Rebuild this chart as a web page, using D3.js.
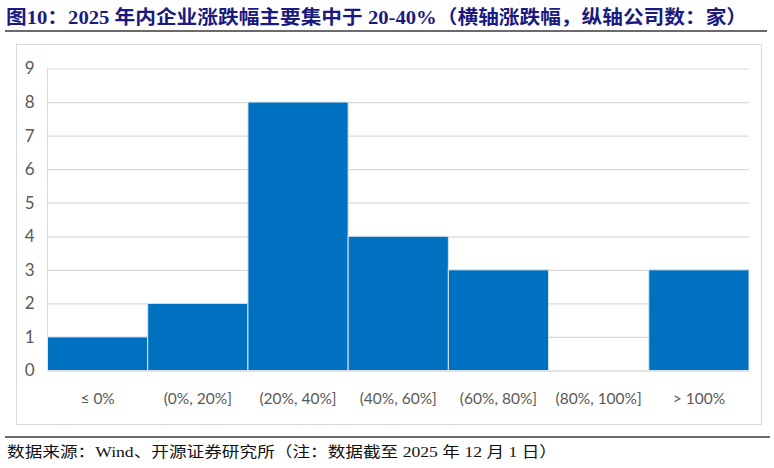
<!DOCTYPE html>
<html><head><meta charset="utf-8">
<script src="https://cdn.jsdelivr.net/npm/d3@7"></script>
<style>body{margin:0;background:#fff}svg{display:block}</style>
</head><body>
<svg id="c" width="774" height="468"></svg>
<script>
const titleText = "图10：2025 年内企业涨跌幅主要集中于 20-40%（横轴涨跌幅，纵轴公司数：家）";
const sourceText = "数据来源：Wind、开源证券研究所（注：数据截至 2025 年 12 月 1 日）";
const categories = ["≤ 0%", "(0%, 20%]", "(20%, 40%]", "(40%, 60%]", "(60%, 80%]", "(80%, 100%]", "> 100%"];
const counts = [1, 2, 8, 4, 3, 0, 3];
const yTicks = [0, 1, 2, 3, 4, 5, 6, 7, 8, 9];

const svg = d3.select("#c");
const W = 774, H = 468;

// title
svg.append("text").attr("x", 6).attr("y", 24)
  .attr("font-family", "'Liberation Serif','Noto Sans CJK SC',serif")
  .attr("font-weight", "bold").attr("font-size", 19).attr("fill", "#1a1a80")
  .attr("textLength", 741).attr("lengthAdjust", "spacingAndGlyphs")
  .text(titleText);
svg.append("line").attr("x1", 5).attr("x2", 767).attr("y1", 31).attr("y2", 31)
  .attr("stroke", "#6b6b6b").attr("stroke-width", 2);

// chart frame
svg.append("rect").attr("x", 16.5).attr("y", 44.5).attr("width", 745).attr("height", 380)
  .attr("fill", "#fff").attr("stroke", "#d9d9d9").attr("stroke-width", 1);

const x = d3.scaleBand().domain(categories).range([47.5, 749]).paddingInner(0).paddingOuter(0);
const y = d3.scaleLinear().domain([0, 9]).range([370.5, 68.5]);

// gridlines
const grid = svg.append("g").attr("transform", "translate(47.5,0)")
  .call(d3.axisLeft(y).tickValues(yTicks).tickSize(-(749 - 47.5)).tickFormat(""));
grid.select(".domain").remove();
grid.selectAll("line").attr("stroke", "#d9d9d9").attr("stroke-width", 1.2);

// left axis line
svg.append("line").attr("x1", 47.5).attr("x2", 47.5).attr("y1", y(9)).attr("y2", y(0))
  .attr("stroke", "#d9d9d9").attr("stroke-width", 1);

// bars
svg.append("g").selectAll("rect").data(counts).join("rect")
  .attr("x", (d, i) => x(categories[i]))
  .attr("width", x.bandwidth())
  .attr("y", d => y(d))
  .attr("height", d => y(0) - y(d))
  .attr("fill", "#0070c0")
  .attr("stroke", "#dce6f2").attr("stroke-width", 1);

// y axis labels
const ya = svg.append("g").attr("transform", "translate(47.5,0)")
  .call(d3.axisLeft(y).tickValues(yTicks).tickSize(0).tickPadding(13));
ya.select(".domain").remove();
ya.selectAll("text").attr("font-family", "Lato, 'Open Sans', sans-serif")
  .attr("font-size", 17).attr("fill", "#595959");

// x axis labels
const xa = svg.append("g").attr("transform", "translate(0,370.5)")
  .call(d3.axisBottom(x).tickSize(0).tickPadding(22));
xa.select(".domain").attr("stroke", "#d9d9d9");
xa.selectAll("text").attr("font-family", "Lato, 'Open Sans', sans-serif")
  .attr("font-size", 15.5).attr("fill", "#595959");

// footer
svg.append("line").attr("x1", 5).attr("x2", 770).attr("y1", 437).attr("y2", 437)
  .attr("stroke", "#6b6b6b").attr("stroke-width", 2);
svg.append("text").attr("x", 7).attr("y", 457)
  .attr("font-family", "'Liberation Serif','Noto Sans CJK SC',serif")
  .attr("font-size", 15).attr("fill", "#111")
  .attr("textLength", 550).attr("lengthAdjust", "spacingAndGlyphs")
  .text(sourceText);
</script>
</body></html>
